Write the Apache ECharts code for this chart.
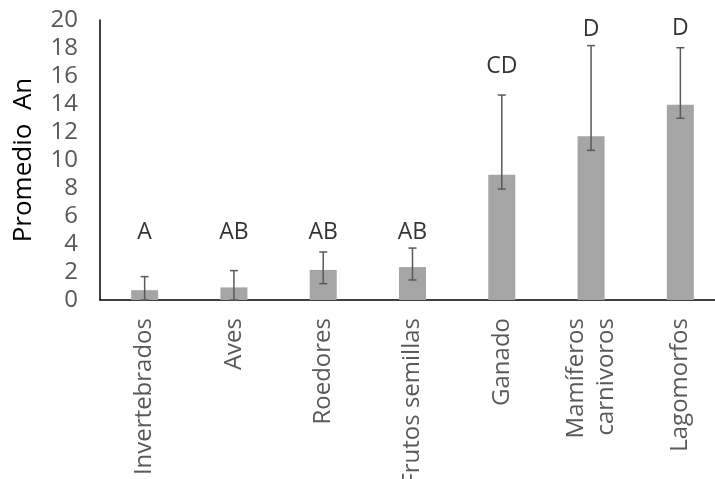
<!DOCTYPE html>
<html><head><meta charset="utf-8">
<script src="https://cdn.jsdelivr.net/npm/echarts@6/dist/echarts.min.js"></script>
<style>html,body{margin:0;padding:0;background:#fff}#c{width:715px;height:479px}</style>
</head><body><div id="c"></div>
<script>
const categories = ['Invertebrados','Aves','Roedores','Frutos semillas','Ganado','Mamíferos\ncarnivoros','Lagomorfos'];
const means = [0.7, 0.9, 2.15, 2.35, 8.95, 11.7, 13.95];
const errHigh = [1.67, 2.1, 3.43, 3.71, 14.64, 18.17, 18.02];
const errLow = [0, 0, 1.17, 1.43, 7.93, 10.69, 12.98];
const letters = ['A','AB','AB','AB','CD','D','D'];
const letterY = [4.79, 4.79, 4.79, 4.83, 16.7, 19.36, 19.43];
const yTicks = {min:0, max:20, interval:2};

const chart = echarts.init(document.getElementById('c'));
chart.setOption({
  animation:false,
  grid:{left:100, top:20, width:625, height:280, containLabel:false, outerBoundsMode:'none'},
  xAxis:{type:'category', data:categories,
    axisLine:{lineStyle:{color:'#000', width:1.5}},
    axisTick:{show:false},
    axisLabel:{rotate:90, color:'#595959', fontSize:24, fontFamily:'Open Sans', margin:18, lineHeight:30, interval:0}},
  yAxis:{type:'value', min:yTicks.min, max:yTicks.max, interval:yTicks.interval,
    name:'Promedio  An', nameLocation:'middle', nameGap:63, nameRotate:90,
    nameTextStyle:{color:'#000', fontSize:26, fontFamily:'Open Sans'},
    axisLine:{show:true, lineStyle:{color:'#000', width:1.5}},
    axisTick:{show:false}, splitLine:{show:false},
    axisLabel:{color:'#595959', fontSize:24, fontFamily:'Open Sans', margin:22}},
  series:[
    {type:'bar', data:means, barWidth:27, itemStyle:{color:'#a5a5a5'}},
    {type:'custom', data:categories.map((c,i)=>[i, errLow[i], errHigh[i]]),
      renderItem:function(params, api){
        const i = api.value(0);
        const hi = api.coord([i, api.value(2)]);
        const lo = api.coord([i, api.value(1)]);
        const cw = 4;
        const st = {stroke:'#595959', lineWidth:1.5};
        return {type:'group', children:[
          {type:'line', shape:{x1:hi[0], y1:hi[1], x2:lo[0], y2:lo[1]}, style:st},
          {type:'line', shape:{x1:hi[0]-cw, y1:hi[1], x2:hi[0]+cw, y2:hi[1]}, style:st},
          {type:'line', shape:{x1:lo[0]-cw, y1:lo[1], x2:lo[0]+cw, y2:lo[1]}, style:st}
        ]};
      }, z:3},
    {type:'scatter', data:letterY.map((v,i)=>[i, v]), symbolSize:0,
      label:{show:true, position:'inside', formatter:(p)=>letters[p.dataIndex], color:'#000', fontSize:23, fontFamily:'Open Sans'}}
  ]
});
</script></body></html>
